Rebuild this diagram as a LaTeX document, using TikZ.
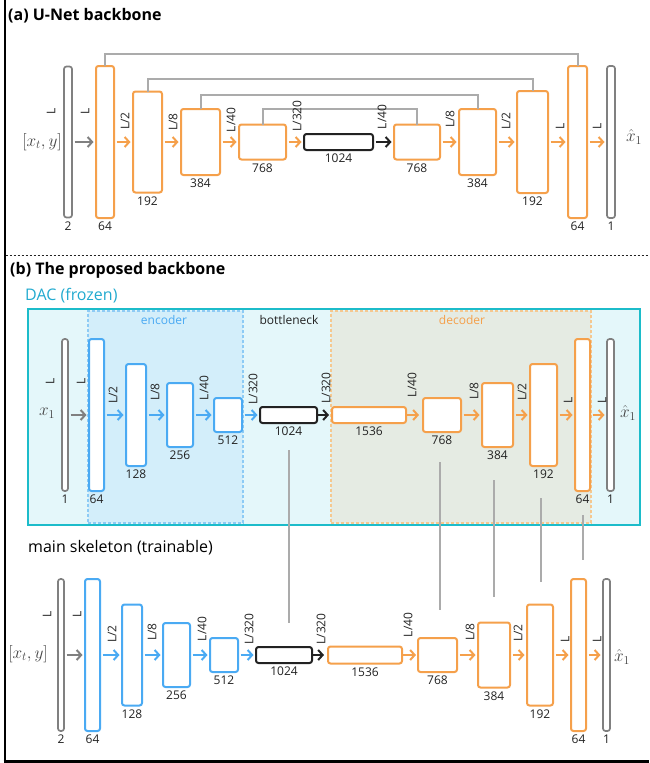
\documentclass[tikz,border=0pt]{standalone}
\usepackage[no-math]{fontspec}
\setmainfont{Open Sans}
\usetikzlibrary{arrows.meta,calc}
\definecolor{org}{HTML}{F5A04B}
\definecolor{blu}{HTML}{4AAAF3}
\definecolor{gbar}{HTML}{808080}
\definecolor{dk}{HTML}{222222}
\definecolor{skc}{HTML}{ABABAB}
\definecolor{txt}{HTML}{222222}
\definecolor{dacb}{HTML}{1CBCCA}
\definecolor{dacf}{HTML}{E4F7FA}
\definecolor{dact}{HTML}{22AACF}
\definecolor{encf}{HTML}{D3EEFA}
\definecolor{encb}{HTML}{8DCBF5}
\definecolor{decf}{HTML}{E5EBE3}
\definecolor{decb}{HTML}{F5C890}
\definecolor{mth}{HTML}{444444}
\newcommand\mkb[7]{%
  \node[#1, minimum width={#4-#3-2}, minimum height={#5-2}] (#2) at ({(#3+#4)/2},#6) {};
  \node[num, yshift=-4pt] (#2-l) at (#2.south) {#7};}
\newcommand\rlab[4]{\node[rl] (#1) at (#2,#3) {#4};}
\begin{document}
\begin{tikzpicture}[x=1pt,y=-1pt,
  blk/.style={draw, line width=2pt, rounded corners=2.5pt, fill=white, inner sep=0pt, outer sep=0pt},
  ob/.style={blk, draw=org},
  bb/.style={blk, draw=blu},
  gb/.style={blk, draw=gbar, line width=1.7pt},
  kb/.style={blk, draw=dk},
  arr/.style={line width=2pt, -{Straight Barb[length=4.5pt,width=10pt]}, shorten <=2.5pt, shorten >=2.5pt},
  num/.style={font=\fontsize{12}{14}\selectfont, inner sep=0pt, anchor=north, text=txt},
  rl/.style={font=\fontsize{12}{14}\selectfont, rotate=90, inner sep=0pt, text=txt},
  skip/.style={draw=skc, line width=2pt},
  ttl/.style={font=\fontsize{16}{18}\selectfont\bfseries, anchor=west, inner sep=0pt, text=black},
  mlab/.style={font=\fontsize{16.5}{18}\selectfont, inner sep=0pt, text=mth},
  reg/.style={line width=1.1pt, dash pattern=on 3pt off 2pt, inner sep=0pt, outer sep=0pt},
]
\useasboundingbox (0,0) rectangle (649,763);
% frame
\draw[line width=2pt, black] (4.5,0) -- (4.5,761);
\draw[line width=3pt, black] (3.5,761.5) -- (649,761.5);
\draw[dash pattern=on 2.5pt off 1.5pt, line width=0.9pt, draw=dk] (5.5,255) -- (649,255);

% ---------------- (a) ----------------
\node[ttl] (ta) at (8,16) {(a) U-Net backbone};
\mkb{gb}{ain}{63}{73}{153}{142}{2}
\mkb{ob}{ae1}{95}{115}{154}{142}{64}
\mkb{ob}{ae2}{132}{163}{103}{142}{192}
\mkb{ob}{ae3}{180}{221}{68}{142}{384}
\mkb{ob}{ae4}{238}{287}{37}{142}{768}
\mkb{kb}{abn}{303}{374}{18}{142}{1024}
\mkb{ob}{ad4}{393}{441}{37}{142}{768}
\mkb{ob}{ad3}{458}{497}{68}{142}{384}
\mkb{ob}{ad2}{516}{549}{104}{142}{192}
\mkb{ob}{ad1}{567}{588}{154}{142}{64}
\mkb{gb}{aout}{606}{616}{154}{142}{1}
\node[mlab] (axin) at (42,142) {$[x_t,y]$};
\node[mlab] (axout) at (634,137) {$\hat{x}_1$};
\draw[skip] (ae1.north) -- ++(0,-12) -| (ad1.north);
\draw[skip] (ae2.north) -- ++(0,-13) -| (ad2.north);
\draw[skip] (ae3.north) -- ++(0,-14) -| (ad3.north);
\draw[skip] (ae4.north) -- ++(0,-16) -| (ad4.north);
\draw[arr, draw=gbar] (ain.east) -- (ae1.west);
\draw[arr, draw=org] (ae1.east) -- (ae2.west);
\draw[arr, draw=org] (ae2.east) -- (ae3.west);
\draw[arr, draw=org] (ae3.east) -- (ae4.west);
\draw[arr, draw=org] (ae4.east) -- (abn.west);
\draw[arr, draw=dk] (abn.east) -- (ad4.west);
\draw[arr, draw=org] (ad4.east) -- (ad3.west);
\draw[arr, draw=org] (ad3.east) -- (ad2.west);
\draw[arr, draw=org] (ad2.east) -- (ad1.west);
\draw[arr, draw=org] (ad1.east) -- (aout.west);
\rlab{ar1}{51}{111}{L}
\rlab{ar2}{85}{111}{L}
\rlab{ar3}{125}{121}{L/2}
\rlab{ar4}{173}{122}{L/8}
\rlab{ar5}{231}{120}{L/40}
\rlab{ar6}{297}{116}{L/320}
\rlab{ar7}{382}{117}{L/40}
\rlab{ar8}{450}{119}{L/8}
\rlab{ar9}{506}{121}{L/2}
\rlab{ar10}{560}{126}{L}
\rlab{ar11}{597}{126}{L}

% ---------------- (b) ----------------
\node[ttl] (tb) at (10,270) {(b) The proposed backbone};
\node[font=\fontsize{16}{18}\selectfont, anchor=west, inner sep=0pt, text=dact] (tdac) at (25,296) {DAC (frozen)};
\node[draw=dacb, fill=dacf, line width=2pt, inner sep=0pt, minimum width=612, minimum height=216] (dac) at (333.5,416.5) {};
\node[reg, draw=encb, fill=encf, minimum width=155, minimum height=212] (enc) at (165.5,417) {};
\node[reg, draw=decb, fill=decf, minimum width=260, minimum height=212] (dec) at (461,417) {};
\node[font=\fontsize{12}{14}\selectfont, inner sep=0pt, text=blu] (tenc) at (164,320) {encoder};
\node[font=\fontsize{12}{14}\selectfont, inner sep=0pt, text=txt] (tbot) at (289,320) {bottleneck};
\node[font=\fontsize{12}{14}\selectfont, inner sep=0pt, text=org] (tdec) at (462,320) {decoder};

\mkb{gb}{bin}{61}{69}{154}{415}{1}
\mkb{bb}{be1}{88}{105}{154}{415}{64}
\mkb{bb}{be2}{125}{147}{104}{415}{128}
\mkb{bb}{be3}{166}{194}{66}{415}{256}
\mkb{bb}{be4}{213}{243}{36}{415}{512}
\mkb{kb}{bbn}{259}{318}{18}{415}{1024}
\mkb{ob}{bd5}{331}{407}{18}{415}{1536}
\mkb{ob}{bd4}{422}{462}{36}{415}{768}
\mkb{ob}{bd3}{481}{514}{66}{415}{384}
\mkb{ob}{bd2}{529}{558}{104}{415}{192}
\mkb{ob}{bd1}{574}{591}{154}{415}{64}
\mkb{gb}{bout}{606}{615}{154}{415}{1}
\node[mlab] (bxin) at (47,413) {$x_1$};
\node[mlab] (bxout) at (628,413) {$\hat{x}_1$};
\draw[arr, draw=gbar] (bin.east) -- (be1.west);
\draw[arr, draw=blu] (be1.east) -- (be2.west);
\draw[arr, draw=blu] (be2.east) -- (be3.west);
\draw[arr, draw=blu] (be3.east) -- (be4.west);
\draw[arr, draw=blu] (be4.east) -- (bbn.west);
\draw[arr, draw=dk, shorten <=0.5pt, shorten >=3pt] (bbn.east) -- (bd5.west);
\draw[arr, draw=org, shorten <=0.5pt, shorten >=4pt] (bd5.east) -- (bd4.west);
\draw[arr, draw=org] (bd4.east) -- (bd3.west);
\draw[arr, draw=org] (bd3.east) -- (bd2.west);
\draw[arr, draw=org] (bd2.east) -- (bd1.west);
\draw[arr, draw=org] (bd1.east) -- (bout.west);
\rlab{br1}{50}{381}{L}
\rlab{br2}{81}{381}{L}
\rlab{br3}{113}{395}{L/2}
\rlab{br4}{155}{392}{L/8}
\rlab{br5}{204}{388}{L/40}
\rlab{br6}{253}{389}{L/320}
\rlab{br7}{326}{388}{L/320}
\rlab{br8}{412}{385}{L/40}
\rlab{br9}{474}{391}{L/8}
\rlab{br10}{522}{392}{L/2}
\rlab{br11}{568}{400}{L}
\rlab{br12}{602}{400}{L}

% main skeleton
\node[font=\fontsize{16}{18}\selectfont, anchor=west, inner sep=0pt, text=black] (tms) at (28,548) {main skeleton (trainable)};
\mkb{gb}{cin}{57}{65}{154}{655}{2}
\mkb{bb}{ce1}{84}{101}{154}{655}{64}
\mkb{bb}{ce2}{121}{143}{103}{655}{128}
\mkb{bb}{ce3}{162}{191}{66}{655}{256}
\mkb{bb}{ce4}{209}{239}{36}{655}{512}
\mkb{kb}{cbn}{255}{313}{18}{655}{1024}
\mkb{ob}{cd5}{327}{403}{19}{655}{1536}
\mkb{ob}{cd4}{417}{458}{36}{655}{768}
\mkb{ob}{cd3}{477}{511}{67}{655}{384}
\mkb{ob}{cd2}{526}{554}{103}{655}{192}
\mkb{ob}{cd1}{570}{587}{154}{655}{64}
\mkb{gb}{cout}{602}{611}{154}{655}{1}
\node[mlab] (cxin) at (28,654) {$[x_t,y]$};
\node[mlab] (cxout) at (622,657) {$\hat{x}_1$};
\draw[arr, draw=gbar] (cin.east) -- (ce1.west);
\draw[arr, draw=blu] (ce1.east) -- (ce2.west);
\draw[arr, draw=blu] (ce2.east) -- (ce3.west);
\draw[arr, draw=blu] (ce3.east) -- (ce4.west);
\draw[arr, draw=blu] (ce4.east) -- (cbn.west);
\draw[arr, draw=dk, shorten <=0.5pt, shorten >=4pt] (cbn.east) -- (cd5.west);
\draw[arr, draw=org, shorten <=0.5pt, shorten >=2pt] (cd5.east) -- (cd4.west);
\draw[arr, draw=org] (cd4.east) -- (cd3.west);
\draw[arr, draw=org] (cd3.east) -- (cd2.west);
\draw[arr, draw=org] (cd2.east) -- (cd1.west);
\draw[arr, draw=org] (cd1.east) -- (cout.west);
\rlab{cr1}{47}{614}{L}
\rlab{cr2}{77}{614}{L}
\rlab{cr3}{112}{634}{L/2}
\rlab{cr4}{152}{632}{L/8}
\rlab{cr5}{202}{629}{L/40}
\rlab{cr6}{249}{629}{L/320}
\rlab{cr7}{321}{629}{L/320}
\rlab{cr8}{408}{625}{L/40}
\rlab{cr9}{470}{632}{L/8}
\rlab{cr10}{518}{633}{L/2}
\rlab{cr11}{565}{639}{L}
\rlab{cr12}{597}{639}{L}

% DAC -> skeleton links
\coordinate (k1a) at (289,450); \coordinate (k1b) at (289,623);
\coordinate (k2a) at (440,462); \coordinate (k2b) at (440,610);
\coordinate (k3a) at (494,480); \coordinate (k3b) at (494,597);
\coordinate (k4a) at (541,498); \coordinate (k4b) at (541,582);
\coordinate (k5a) at (583,515); \coordinate (k5b) at (583,560);
\draw[skip] (k1a) -- (k1b);
\draw[skip] (k2a) -- (k2b);
\draw[skip] (k3a) -- (k3b);
\draw[skip] (k4a) -- (k4b);
\draw[skip] (k5a) -- (k5b);
\end{tikzpicture}
\end{document}
